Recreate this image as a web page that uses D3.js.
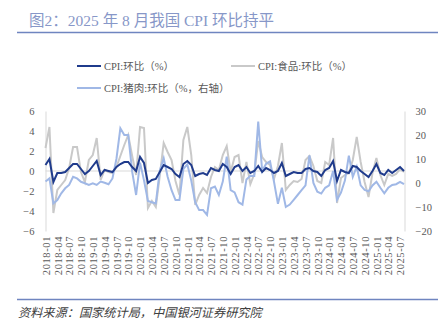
<!DOCTYPE html>
<html><head><meta charset="utf-8">
<script src="https://cdn.jsdelivr.net/npm/d3@7"></script>
<style>
html,body{margin:0;padding:0;background:#fff;}
svg{display:block;}
</style></head>
<body><svg id="c" width="448" height="322"></svg>
<script>
const years = [2018,2019,2020,2021,2022,2023,2024,2025];
const months = [];
years.forEach(y => { for (let m = 1; m <= 12; m++) { if (y === 2025 && m > 8) break; months.push(y + "-" + String(m).padStart(2, "0")); } });

const cpi = [
 0.6, 1.2,-1.1,-0.2,-0.2,-0.1, 0.3, 0.7, 0.7, 0.2,-0.3, 0.0,
 0.5, 1.0,-0.4, 0.1, 0.0,-0.1, 0.4, 0.7, 0.9, 0.9, 0.4, 0.0,
 1.4, 0.8,-1.2,-0.9,-0.8,-0.1, 0.6, 0.4, 0.2,-0.3,-0.6, 0.7,
 1.0, 0.6,-0.5,-0.3,-0.2,-0.4, 0.3, 0.1, 0.0, 0.7, 0.4,-0.3,
 0.4, 0.6, 0.0, 0.4,-0.2, 0.0, 0.5,-0.1, 0.3, 0.1,-0.2, 0.0,
 0.8,-0.5,-0.3,-0.1,-0.2,-0.2, 0.2, 0.3, 0.0,-0.1,-0.5, 0.1,
 0.3, 1.0,-1.0, 0.1,-0.1,-0.2, 0.5, 0.4, 0.0,-0.3,-0.6, 0.0,
 0.7,-0.2,-0.4, 0.1,-0.2, 0.1, 0.4, 0.0
];
const food = [
 2.3, 4.4,-4.2,-1.9,-1.4,-0.9, 0.3, 2.4, 2.4,-0.1,-1.1, 1.1,
 1.6, 3.3,-0.9, 0.1,-0.1,-0.2, 0.4, 1.5, 2.6, 3.6, 1.5,-0.4,
 4.4, 4.3,-3.7,-3.0,-3.6,-0.5, 2.8, 1.9, 1.1,-1.0,-2.4, 3.1,
 4.4, 1.6,-3.4,-2.4,-1.7,-2.2,-0.6, 0.4, 0.1, 1.6, 2.5,-0.1,
 1.4, 1.6,-1.2, 0.9,-1.3,-0.3, 3.0, 1.4, 0.9, 0.6,-0.8, 0.5,
 2.8,-1.9,-1.4,-1.0,-1.1,-0.8, 1.1, 1.5, 0.5,-1.0,-1.2, 0.9,
 0.6, 3.3,-3.2,-0.7,-0.4,-0.2, 1.1, 3.4, 0.9,-1.1,-2.6,-0.2,
 1.3,-0.4,-1.4,-0.3,-0.5,-0.3, 0.2,-0.1
];
const pork = [
  0.6,  1.9, -8.5, -7.1, -4.3, -2.2, -0.8,  2.6,  1.9,  0.5, -0.1, -0.8,
 -0.1, -0.8,  0.6,  0.1, -0.5,  1.9, 10.0, 22.8, 20.0, 20.0,  4.7, -5.0,
  8.5,  1.1, -7.5, -8.0, -8.5,  5.1, 10.3,  2.6, -3.0, -7.1, -7.1,  5.9,
  7.8,  1.0, -8.0,-11.3,-11.3,-13.3, -2.2, -1.5, -5.0,  0.6, 11.0, -3.0,
 -3.9, -8.0, -9.0,  1.5,  3.0,  2.9, 25.6,  5.0,  8.0,  9.0,  0.5, -8.7,
 -2.0,-10.0, -9.0, -7.0, -5.0, -3.0, -1.0, 11.5,  0.0, -3.6, -4.4, -2.0,
 -1.0,  5.0, -7.0, -4.0,  1.0, 11.4,  2.6,  6.8, -1.0, -2.9, -3.5, -1.0,
  0.5, -2.0, -4.3, -2.0, -0.8, -0.5,  0.5, -0.5
];
const leftTicks = [-6,-4,-2,0,2,4,6];
const rightTicks = [-20,-10,0,10,20,30];
const seriesNames = ["CPI:环比（%）","CPI:食品:环比（%）","CPI:猪肉:环比（%，右轴）"];
const seriesColors = ["#1f3b8c","#c9c9c9","#a0b8e6"];
const title = "图2：2025 年 8 月我国 CPI 环比持平";
const source = "资料来源：国家统计局，中国银河证券研究院";

const svg = d3.select("#c");
const serif = "'Liberation Serif','Noto Sans CJK SC',serif";
const cjk = "'Liberation Serif','Noto Sans CJK SC',sans-serif";

// title
svg.append("text").attr("x",29).attr("y",26).attr("font-family",cjk).attr("font-size",15.5)
  .attr("fill","#8797c8").text(title);
svg.append("line").attr("x1",17).attr("x2",438).attr("y1",32.5).attr("y2",32.5)
  .attr("stroke","#6f85c0").attr("stroke-width",1.3);
svg.append("line").attr("x1",17).attr("x2",438).attr("y1",299.5).attr("y2",299.5)
  .attr("stroke","#6f85c0").attr("stroke-width",1.3);
svg.append("text").attr("x",18).attr("y",317).attr("font-family",cjk).attr("font-size",12.2)
  .attr("font-style","italic").attr("fill","#404040").text(source);

const x = d3.scalePoint().domain(months).range([45.5,404]);
const yL = d3.scaleLinear().domain([-6,6]).range([231,111]);
const yR = d3.scaleLinear().domain([-20,30]).range([231,111]);

// axes
const axL = svg.append("g").attr("transform","translate(45.5,0)")
  .call(d3.axisLeft(yL).tickValues(leftTicks).tickSize(0).tickPadding(11).tickFormat(d3.format("d")));
const axR = svg.append("g").attr("transform","translate(404.5,0)")
  .call(d3.axisRight(yR).tickValues(rightTicks).tickSize(0).tickPadding(11).tickFormat(d3.format("d")));
[axL,axR].forEach(a => {
  a.select(".domain").attr("stroke","#d9d9d9");
  a.selectAll("text").attr("font-family",serif).attr("font-size",10.5).attr("fill","#595959");
});
// zero line
svg.append("line").attr("x1",45.5).attr("x2",404).attr("y1",yL(0)).attr("y2",yL(0))
  .attr("stroke","#d9d9d9").attr("stroke-width",1);

const axX = svg.append("g").attr("transform","translate(0,235)")
  .call(d3.axisBottom(x).tickValues(months.filter((d,i)=>i%3===0)).tickSize(0));
axX.select(".domain").remove();
axX.selectAll("text").attr("font-family",serif).attr("font-size",10.5).attr("fill","#595959")
  .attr("letter-spacing",0.6)
  .attr("transform","rotate(-90)").attr("text-anchor","end").attr("x",-1).attr("y",0).attr("dy","0.35em");

// lines
const mk = (sc) => d3.line().x((d,i)=>x(months[i])).y(d=>sc(d));
svg.append("path").datum(food).attr("d",mk(yL)).attr("fill","none").attr("stroke",seriesColors[1]).attr("stroke-width",2);
svg.append("path").datum(pork).attr("d",mk(yR)).attr("fill","none").attr("stroke",seriesColors[2]).attr("stroke-width",2);
svg.append("path").datum(cpi).attr("d",mk(yL)).attr("fill","none").attr("stroke",seriesColors[0]).attr("stroke-width",2);

// legend
const leg = [[77,66,0],[231,66,1],[77,88,2]];
leg.forEach(([lx,ly,k]) => {
  svg.append("line").attr("x1",lx).attr("x2",lx+24).attr("y1",ly).attr("y2",ly)
    .attr("stroke",seriesColors[k]).attr("stroke-width",2);
  svg.append("text").attr("x",lx+27).attr("y",ly).attr("dy","0.35em").attr("font-family",cjk)
    .attr("font-size",10.5).attr("fill","#595959").text(seriesNames[k]);
});
</script></body></html>
